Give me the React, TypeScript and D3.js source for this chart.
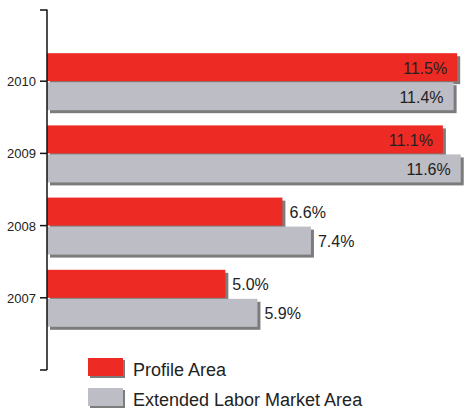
import React from "react";
import * as d3 from "d3";

const years = ["2010", "2009", "2008", "2007"];
const profileArea = [11.5, 11.1, 6.6, 5.0];
const extendedArea = [11.4, 11.6, 7.4, 5.9];
const seriesNames = ["Profile Area", "Extended Labor Market Area"];
const seriesColors = ["#EE2A24", "#BDBDC5"];

const W = 465;
const H = 410;
const FONT = "'Liberation Sans', Arial, sans-serif";

export default function App() {
  const axisX = 47;
  const y = d3.scalePoint<string>().domain(years).range([9, 370]).padding(1);
  const x = d3.scaleLinear().domain([0, 12]).range([axisX, axisX + 428]);
  const barH = 28;
  const shadow = 3;
  const series = [profileArea, extendedArea];

  const labelW = (v: number) => (v.toFixed(1) + "%").length * 9;

  return (
    <svg width={W} height={H} style={{ position: "absolute", left: 0, top: 0 }} fontFamily={FONT}>
      {years.map((yr, i) => {
        const c = y(yr)!;
        return (
          <g key={yr}>
            {series.map((s, si) => {
              const v = s[i];
              const top = si === 0 ? c - barH : c + 1;
              const xe = x(v);
              const inside = xe + 7 + labelW(v) > W;
              return (
                <g key={si}>
                  <rect x={x(0) + shadow} y={top + shadow} width={xe - x(0)} height={barH} fill="#7c7c7c" />
                  <rect x={x(0)} y={top} width={xe - x(0)} height={barH} fill={seriesColors[si]} />
                  <text
                    x={inside ? xe - 10 : xe + 7}
                    y={top + barH / 2 + 6.5}
                    textAnchor={inside ? "end" : "start"}
                    fontSize={16}
                    fill="#222"
                  >
                    {v.toFixed(1)}%
                  </text>
                </g>
              );
            })}
          </g>
        );
      })}
      {/* axis */}
      <line x1={axisX} x2={axisX} y1={9.5} y2={370} stroke="#111" strokeWidth={1.5} />
      <line x1={40} x2={axisX} y1={10} y2={10} stroke="#111" strokeWidth={1.5} />
      <line x1={40} x2={axisX} y1={370} y2={370} stroke="#111" strokeWidth={1.5} />
      {years.map((yr) => (
        <g key={"t" + yr}>
          <line x1={40} x2={axisX} y1={y(yr)!} y2={y(yr)!} stroke="#111" strokeWidth={1.5} />
          <text x={36} y={y(yr)! + 5} textAnchor="end" fontSize={13} fill="#222">
            {yr}
          </text>
        </g>
      ))}
      {/* legend */}
      {seriesNames.map((n, i) => {
        const ly = 358 + i * 30;
        return (
          <g key={n}>
            <rect x={90} y={ly + 2} width={35} height={18} fill="#7c7c7c" />
            <rect x={88} y={ly} width={35} height={18} fill={seriesColors[i]} />
            <text x={133} y={ly + 18} fontSize={18} fill="#222">
              {n}
            </text>
          </g>
        );
      })}
    </svg>
  );
}
